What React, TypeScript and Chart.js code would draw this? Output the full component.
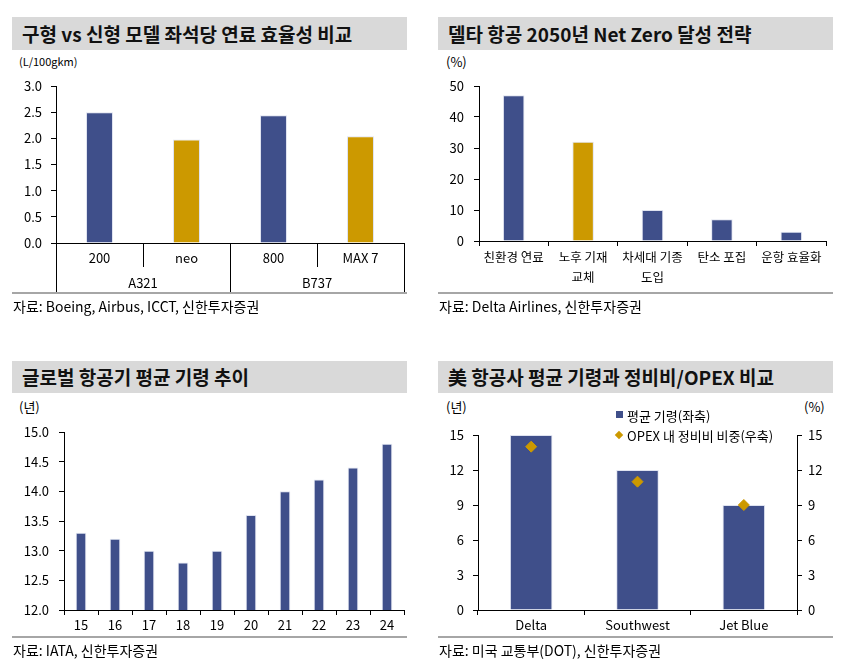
import { useEffect, useRef } from "react"
import { Chart, registerables } from "chart.js"

Chart.register(...registerables)

// 구형 vs 신형 모델 좌석당 연료 효율성
const fuelModels = ["200", "neo", "800", "MAX 7"]
const fuelGroups = ["A321", "B737"]
const fuelValues = [2.5, 1.98, 2.44, 2.04]

// 델타 항공 Net Zero 전략
const netZeroLabels = ["친환경 연료", ["노후 기재", "교체"], ["차세대 기종", "도입"], "탄소 포집", "운항 효율화"]
const netZeroValues = [47, 32, 10, 7, 3]

// 글로벌 항공기 평균 기령
const fleetYears = ["15", "16", "17", "18", "19", "20", "21", "22", "23", "24"]
const fleetAges = [13.3, 13.2, 13.0, 12.8, 13.0, 13.6, 14.0, 14.2, 14.4, 14.8]

// 美 항공사 평균 기령 / 정비비 비중
const airlines = ["Delta", "Southwest", "Jet Blue"]
const airlineAges = [15, 12, 9]
const maintShare = [14, 11, 9]

const NAVY = "#3f4f8a"
const GOLD = "#cc9900"
const EDGE = "rgba(220,224,238,0.9)"
const FONT = "'Noto Sans CJK KR', 'Noto Sans', sans-serif"

const tickFont = { family: FONT, size: 13 }
const labelFont = { family: FONT, size: 12.5 }

const yAxis = (min: number, max: number, step: number, pad: number, width: number, digits: number) => ({
  min,
  max,
  ticks: {
    stepSize: step,
    color: "#000",
    font: tickFont,
    padding: pad,
    callback: (v: any) => Number(v).toFixed(digits),
  },
  grid: { drawOnChartArea: false, tickLength: 5, color: "#000" },
  border: { color: "#000" },
  afterFit: (s: any) => {
    s.width = width
  },
})

const xAxis = (height: number, pad: number, font: any) => ({
  ticks: { color: "#000", font, padding: pad, maxRotation: 0, autoSkip: false },
  grid: { drawOnChartArea: false, tickLength: 5, color: "#000", offset: true },
  border: { color: "#000" },
  afterFit: (s: any) => {
    s.height = height
  },
})

const baseOptions = (padding: any) => ({
  animation: false,
  responsive: true,
  maintainAspectRatio: false,
  layout: { padding },
  plugins: { legend: { display: false }, tooltip: { enabled: false } },
})

// 2단 x축 (기종 / 제조사)
const groupAxisPlugin = {
  id: "groupAxis",
  afterDraw(chart: any) {
    const { ctx, chartArea, scales } = chart
    const x = scales.x
    const n = fuelModels.length
    const half = (x.getPixelForValue(1) - x.getPixelForValue(0)) / 2
    const base = chartArea.bottom
    ctx.save()
    ctx.strokeStyle = "#000"
    ctx.lineWidth = 1
    for (let i = 0; i <= n; i++) {
      const px = i < n ? x.getPixelForValue(i) - half : x.getPixelForValue(n - 1) + half
      const len = i % 2 === 0 ? 49 : 24
      const cx = Math.round(px) + 0.5
      ctx.beginPath()
      ctx.moveTo(cx, base)
      ctx.lineTo(cx, base + len)
      ctx.stroke()
    }
    ctx.fillStyle = "#000"
    ctx.font = `13px ${FONT}`
    ctx.textAlign = "center"
    ctx.textBaseline = "middle"
    fuelGroups.forEach((g, i) => {
      const cx = (x.getPixelForValue(i * 2) + x.getPixelForValue(i * 2 + 1)) / 2
      ctx.fillText(g, cx, base + 40)
    })
    ctx.restore()
  },
}

const makeFuel = (): any => ({
  type: "bar",
  data: {
    labels: fuelModels,
    datasets: [
      {
        data: fuelValues,
        backgroundColor: [NAVY, GOLD, NAVY, GOLD],
        borderColor: EDGE,
        borderWidth: 1,
        categoryPercentage: 0.31,
        barPercentage: 1,
      },
    ],
  },
  options: {
    ...baseOptions({ top: 31, right: 3, left: 0, bottom: 0 }),
    scales: {
      x: {
        ...xAxis(52, 7, tickFont),
        grid: { display: false, drawTicks: false },
      },
      y: yAxis(0, 3, 0.5, 9, 44, 1),
    },
  },
  plugins: [groupAxisPlugin],
})

const makeNetZero = (): any => ({
  type: "bar",
  data: {
    labels: netZeroLabels,
    datasets: [
      {
        data: netZeroValues,
        backgroundColor: [NAVY, GOLD, NAVY, NAVY, NAVY],
        borderColor: EDGE,
        borderWidth: 1,
        categoryPercentage: 0.31,
        barPercentage: 1,
      },
    ],
  },
  options: {
    ...baseOptions({ top: 31, right: 7, left: 0, bottom: 0 }),
    scales: {
      x: xAxis(54, 2, { ...labelFont, lineHeight: 1.55 }),
      y: yAxis(0, 50, 10, 10, 41, 0),
    },
  },
})

const makeFleet = (): any => ({
  type: "bar",
  data: {
    labels: fleetYears,
    datasets: [
      {
        data: fleetAges,
        backgroundColor: NAVY,
        borderColor: EDGE,
        borderWidth: 1,
        categoryPercentage: 0.31,
        barPercentage: 1,
      },
    ],
  },
  options: {
    ...baseOptions({ top: 34, right: 3, left: 0, bottom: 0 }),
    scales: {
      x: xAxis(28, 2, tickFont),
      y: yAxis(12, 15, 0.5, 10, 52, 1),
    },
  },
})

const makeAirline = (): any => ({
  type: "bar",
  data: {
    labels: airlines,
    datasets: [
      {
        type: "line",
        label: "OPEX 내 정비비 비중(우축)",
        data: maintShare,
        yAxisID: "y2",
        showLine: false,
        pointStyle: "rectRot",
        pointRadius: 5.5,
        pointBackgroundColor: GOLD,
        pointBorderColor: GOLD,
        order: 0,
      },
      {
        label: "평균 기령(좌축)",
        data: airlineAges,
        backgroundColor: NAVY,
        borderColor: EDGE,
        borderWidth: 1,
        categoryPercentage: 0.4,
        barPercentage: 1,
        yAxisID: "y",
        order: 1,
      },
    ],
  },
  options: {
    ...baseOptions({ top: 37, right: 0, left: 0, bottom: 0 }),
    scales: {
      x: xAxis(28, 2, tickFont),
      y: yAxis(0, 15, 3, 9, 40, 0),
      y2: { ...yAxis(0, 15, 3, 6, 36, 0), position: "right" },
    },
  },
})

function ChartBox({ make, left, top, width, height }: { make: () => any; left: number; top: number; width: number; height: number }) {
  const ref = useRef<HTMLCanvasElement>(null)
  useEffect(() => {
    if (!ref.current) return
    const chart = new Chart(ref.current, make())
    return () => chart.destroy()
  }, [make])
  return (
    <div style={{ position: "absolute", left, top, width, height }}>
      <canvas ref={ref}></canvas>
    </div>
  )
}

function Text({ x, y, size, children, bold }: { x: number; y: number; size: number; children: any; bold?: boolean }) {
  return (
    <div
      style={{
        position: "absolute",
        left: x,
        top: y - size / 2,
        fontSize: size,
        lineHeight: `${size}px`,
        fontWeight: bold ? 700 : 400,
        whiteSpace: "nowrap",
        color: "#000",
      }}
    >
      {children}
    </div>
  )
}

function TitleBar({ x, y, h, text }: { x: number; y: number; h: number; text: string }) {
  return (
    <div
      style={{
        position: "absolute",
        left: x,
        top: y,
        width: 395,
        height: h,
        background: "#d9d9d9",
        fontSize: 19,
        fontWeight: 700,
        lineHeight: `${h}px`,
        paddingLeft: 10,
        boxSizing: "border-box",
        whiteSpace: "nowrap",
        color: "#111",
      }}
    >
      {text}
    </div>
  )
}

const Rule = ({ x, y }: { x: number; y: number }) => (
  <div style={{ position: "absolute", left: x, top: y, width: 395, height: 2, background: "#a6a6a6" }} />
)

export default function App() {
  return (
    <div
      style={{
        position: "absolute",
        left: 0,
        top: 0,
        width: 846,
        height: 671,
        background: "#fff",
        fontFamily: FONT,
        overflow: "hidden",
      }}
    >
      {/* 좌상 */}
      <TitleBar x={12} y={17} h={33} text="구형 vs 신형 모델 좌석당 연료 효율성 비교" />
      <Text x={19} y={61} size={11}>(L/100gkm)</Text>
      <ChartBox make={makeFuel} left={12} top={55} width={395} height={240} />
      <Rule x={12} y={292} />
      <Text x={13} y={306} size={14}>자료: Boeing, Airbus, ICCT, 신한투자증권</Text>

      {/* 우상 */}
      <TitleBar x={438} y={17} h={33} text="델타 항공 2050년 Net Zero 달성 전략" />
      <Text x={446} y={61} size={13}>(%)</Text>
      <ChartBox make={makeNetZero} left={438} top={55} width={395} height={240} />
      <Rule x={438} y={292} />
      <Text x={439} y={306} size={14}>자료: Delta Airlines, 신한투자증권</Text>

      {/* 좌하 */}
      <TitleBar x={12} y={361} h={32} text="글로벌 항공기 평균 기령 추이" />
      <Text x={19} y={406} size={13}>(년)</Text>
      <ChartBox make={makeFleet} left={12} top={398} width={395} height={240} />
      <Rule x={12} y={636} />
      <Text x={13} y={650} size={14}>자료: IATA, 신한투자증권</Text>

      {/* 우하 */}
      <TitleBar x={438} y={361} h={32} text="美 항공사 평균 기령과 정비비/OPEX 비교" />
      <Text x={446} y={406} size={13}>(년)</Text>
      <Text x={804} y={406} size={13}>(%)</Text>
      <ChartBox make={makeAirline} left={438} top={398} width={395} height={240} />
      <div style={{ position: "absolute", left: 616, top: 411, width: 7, height: 7, background: NAVY }} />
      <Text x={627} y={415} size={13}>평균 기령(좌축)</Text>
      <div
        style={{
          position: "absolute",
          left: 616,
          top: 432,
          width: 6,
          height: 6,
          background: GOLD,
          transform: "rotate(45deg)",
        }}
      />
      <Text x={627} y={435} size={13}>OPEX 내 정비비 비중(우축)</Text>
      <Rule x={438} y={636} />
      <Text x={439} y={650} size={14}>자료: 미국 교통부(DOT), 신한투자증권</Text>
    </div>
  )
}
